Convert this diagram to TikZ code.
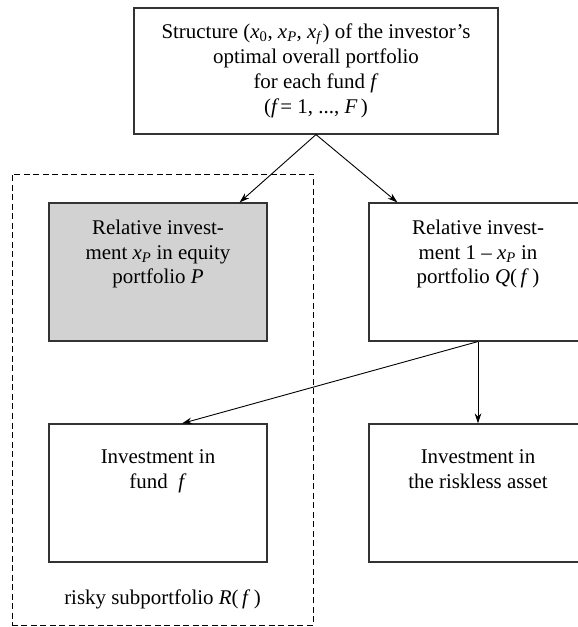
\documentclass[tikz,border=0pt]{standalone}
\usepackage{fontspec}
\setmainfont{Liberation Serif}
\usetikzlibrary{positioning,arrows.meta}
\newcommand{\xsub}[1]{\textit{x}\textsubscript{#1}}

\begin{document}
\begin{tikzpicture}[x=1bp,y=-1bp,font=\fontsize{21}{25}\selectfont]
\useasboundingbox (0,0) rectangle (578,627);
\tikzstyle{box}=[draw=black!80,line width=1.1bp,minimum width=218bp,minimum height=138bp,inner sep=0pt]
\tikzstyle{txt}=[align=center,inner sep=0pt]
\tikzstyle{arr}=[line width=0.9bp,-{Stealth[length=10bp,width=6.5bp]}]
% risky part
\node[draw,line width=0.8bp,dash pattern=on 6bp off 3.5bp,minimum width=301bp,minimum height=451bp] (risky) at (162.5,399.5) {};
\node[txt,above=16bp of risky.south] (riskyLbl) {risky subportfolio \textit{R}(\,\textit{f}\,)};
% boxes
\node[box,minimum width=364bp,minimum height=126bp,align=center] (struct) at (316,71) {Structure (\xsub{0}, \xsub{\textit{P}}, \xsub{\textit{f}}) of the investor's\\ optimal overall portfolio\\ for each fund \textit{f}\\ (\textit{f\,}= 1, ..., \textit{F\,})};
\node[box,fill=gray!35] (equity) at (158,272) {};
\node[box] (restQ) at (478,272) {};
\node[box] (fund) at (158,493) {};
\node[box] (riskless) at (478,493) {};
\node[txt,below=17bp of equity.north] (equityTxt) {Relative invest-\\ ment \xsub{\textit{P}} in equity\\ portfolio \textit{P}};
\node[txt,below=17bp of restQ.north] (restQTxt) {Relative invest-\\ ment 1 – \xsub{\textit{P}} in\\ portfolio \textit{Q}(\,\textit{f}\,)};
\node[txt,below=26bp of fund.north] (fundTxt) {Investment in\\ fund \ \textit{f}};
\node[txt,below=26bp of riskless.north] (risklessTxt) {Investment in\\ the riskless asset};
% arrows
\draw[arr] (struct.south) -- ([xshift=-28bp]equity.north east);
\draw[arr] (struct.south) -- ([xshift=29bp]restQ.north west);
\draw[arr] (restQ.south) -- ([xshift=24bp]fund.north);
\draw[arr] (restQ.south) -- (riskless.north);
\end{tikzpicture}
\end{document}
